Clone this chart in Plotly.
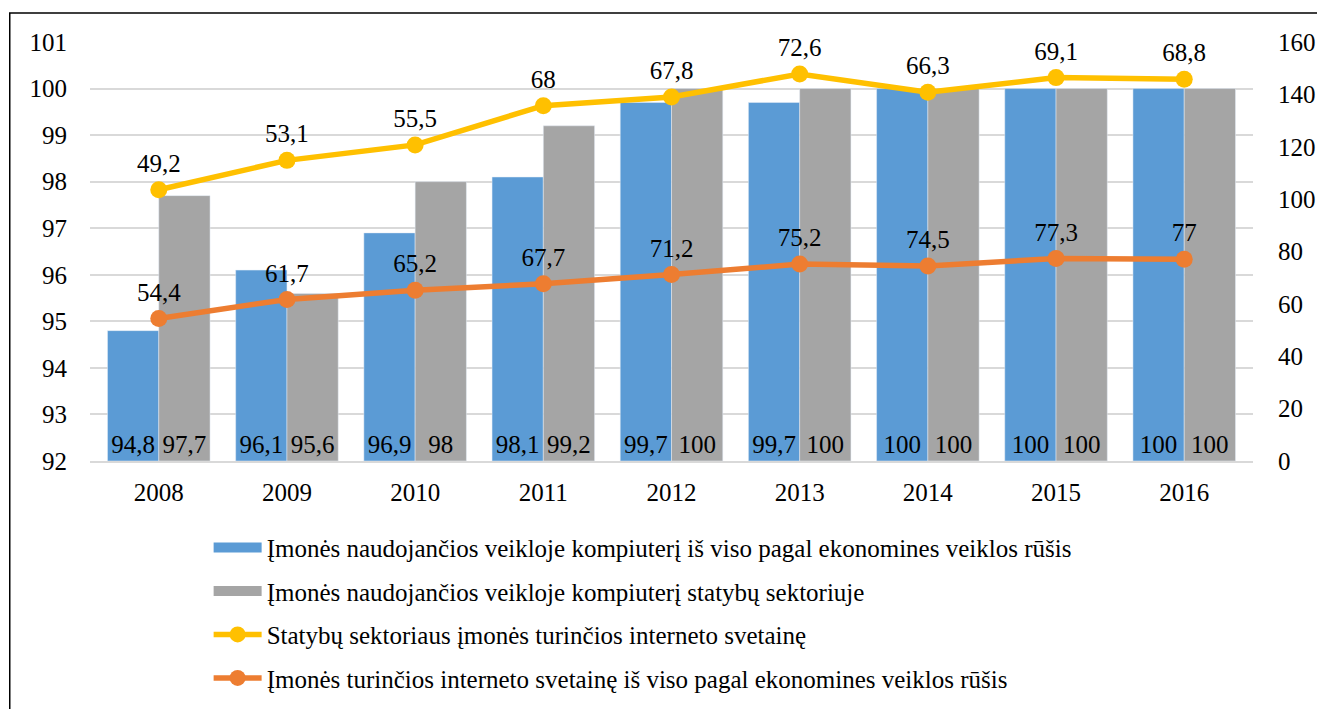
import plotly.graph_objects as go

years = ["2008", "2009", "2010", "2011", "2012", "2013", "2014", "2015", "2016"]
pc_all = [94.8, 96.1, 96.9, 98.1, 99.7, 99.7, 100, 100, 100]
pc_construction = [97.7, 95.6, 98, 99.2, 100, 100, 100, 100, 100]
web_construction = [49.2, 53.1, 55.5, 68, 67.8, 72.6, 66.3, 69.1, 68.8]
web_all = [54.4, 61.7, 65.2, 67.7, 71.2, 75.2, 74.5, 77.3, 77]

names = [
    "Įmonės naudojančios veikloje kompiuterį iš viso pagal ekonomines veiklos rūšis",
    "Įmonės naudojančios veikloje kompiuterį statybų sektoriuje",
    "Statybų sektoriaus įmonės turinčios interneto svetainę",
    "Įmonės turinčios interneto svetainę iš viso pagal ekonomines veiklos rūšis",
]

Y_MIN = 92  # left axis starts here, bars grow from it

BLUE = "#5b9bd5"
GRAY = "#a5a5a5"
YELLOW = "#ffc000"
ORANGE = "#ed7d31"


def lt(vals):
    return [f"{v:g}".replace(".", ",") for v in vals]


FONT = "Liberation Serif"
FS = 25
label_font = dict(family=FONT, size=FS, color="black")

fig = go.Figure()
for vals, col, nm in [(pc_all, BLUE, names[0]), (pc_construction, GRAY, names[1])]:
    fig.add_trace(go.Bar(
        x=years, y=[v - Y_MIN for v in vals], base=Y_MIN, name=nm, showlegend=False,
        marker=dict(color=col), text=lt(vals), textposition="inside",
        insidetextanchor="start", textangle=0, constraintext="none",
        textfont=label_font, hoverinfo="skip",
    ))
# Excel stacked line: the construction series sits on top of the overall series
fig.add_trace(go.Scatter(
    x=years, y=web_all, name=names[3], legendrank=4, legendgroup="d", yaxis="y2",
    stackgroup="web", fill="none", mode="lines+markers+text", cliponaxis=False,
    line=dict(color=ORANGE, width=5.5), marker=dict(size=17, color=ORANGE),
    text=lt(web_all), textposition="top center", textfont=label_font,
))
fig.add_trace(go.Scatter(
    x=years, y=web_construction, name=names[2], legendrank=3, legendgroup="c", yaxis="y2",
    stackgroup="web", fill="none", mode="lines+markers+text", cliponaxis=False,
    line=dict(color=YELLOW, width=5.5), marker=dict(size=17, color=YELLOW),
    text=lt(web_construction), textposition="top center", textfont=label_font,
))
# legend entries for the bars, drawn as wide blocks like the original
for nm, col, rank, grp in [(names[0], BLUE, 1, "a"), (names[1], GRAY, 2, "b")]:
    fig.add_trace(go.Scatter(
        x=[None], y=[None], name=nm, mode="lines", legendrank=rank, legendgroup=grp,
        line=dict(color=col, width=13),
    ))

# the page body adds an 8px margin, so the figure is 8px smaller than the window
fig.update_layout(
    width=1317, height=701,
    margin=dict(l=82, r=72, t=34, b=248, autoexpand=False),
    paper_bgcolor="white", plot_bgcolor="white",
    font=dict(family=FONT, size=FS, color="black"),
    barmode="group", bargap=0.2, bargroupgap=0,
    separators=", ",
    xaxis=dict(showgrid=False, showline=True, linecolor="#d9d9d9", linewidth=2,
               ticks="", ticklabelstandoff=8),
    yaxis=dict(range=[92, 101], dtick=1, showgrid=True, gridcolor="#d9d9d9",
               gridwidth=2, zeroline=False, ticks="", ticklabelstandoff=22),
    yaxis2=dict(range=[0, 160], dtick=20, overlaying="y", side="right",
                showgrid=False, zeroline=False, ticks="", ticklabelstandoff=24),
    showlegend=True,
    legend=dict(orientation="v", x=0.102, xanchor="left", y=-0.152, yanchor="top",
                tracegroupgap=8, font=dict(size=FS), itemwidth=48,
                bgcolor="rgba(0,0,0,0)"),
    shapes=[dict(type="rect", xref="paper", yref="paper",
                 x0=-0.069, x1=1.2, y0=-0.8, y1=1.069,
                 line=dict(color="black", width=1.5), fillcolor="rgba(0,0,0,0)",
                 layer="above")],
)

fig.write_html("out.html")
